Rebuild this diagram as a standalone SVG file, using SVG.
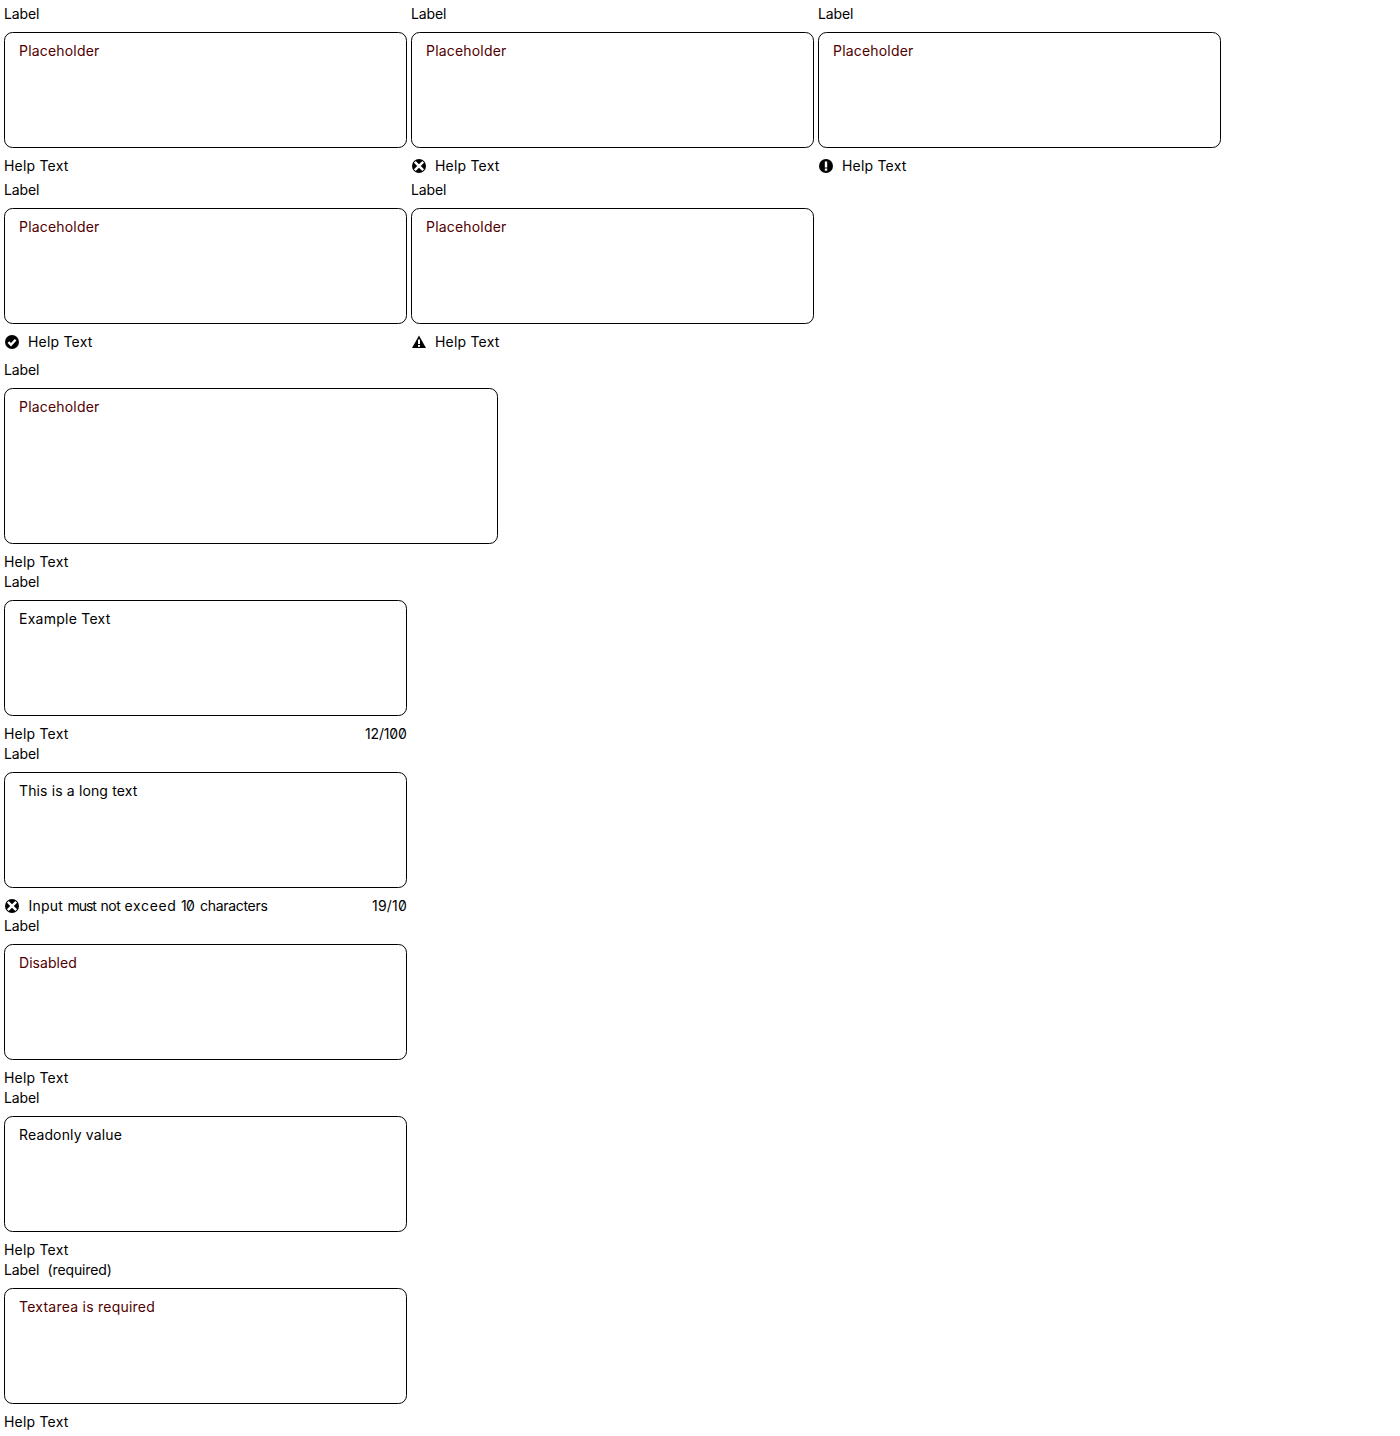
<svg xmlns="http://www.w3.org/2000/svg" width="1400" height="1436" viewBox="0 0 1400 1436">
<defs>
<style>
text{font-family:"Inter","Liberation Sans",sans-serif;font-size:14px;font-weight:380;fill:#000;letter-spacing:.16px;font-feature-settings:"zero"}
.p{fill:#500000}
.b{fill:#fff;stroke:#000;stroke-width:1}
</style>
<symbol id="err" viewBox="0 0 14 14"><circle cx="7" cy="7" r="7"/><path d="M2.8 2.8L11.2 11.2M11.2 2.8L2.8 11.2" stroke="#fff" stroke-width="2.5"/></symbol>
<symbol id="info" viewBox="0 0 14 14"><circle cx="7" cy="7" r="7"/><rect x="5.8" y="2.5" width="2.4" height="6" fill="#fff"/><rect x="5.8" y="9.5" width="2.4" height="2.2" fill="#fff"/></symbol>
<symbol id="ok" viewBox="0 0 14 14"><circle cx="7" cy="7" r="7"/><path d="M3.4 7.2L6 9.8L10.6 4.8" fill="none" stroke="#fff" stroke-width="2.4"/></symbol>
<symbol id="warn" viewBox="0 0 14 14"><path d="M7 .5L14 13H0Z"/><rect x="6" y="4.5" width="2" height="4.5" fill="#fff"/><rect x="6" y="10" width="2" height="1.8" fill="#fff"/></symbol>
</defs>
<g id="field-1"><text x="4" y="19" textLength="35.5">Label</text><rect class="b" x="4.5" y="32.5" width="402" height="115" rx="8"/><text class="p" x="19" y="56" textLength="80.5">Placeholder</text><text x="4" y="171" textLength="64.5">Help Text</text></g>
<g id="field-2"><text x="411" y="19" textLength="35.5">Label</text><rect class="b" x="411.5" y="32.5" width="402" height="115" rx="8"/><text class="p" x="426" y="56" textLength="80.5">Placeholder</text><use href="#err" x="412" y="159" width="14" height="14"/><text x="435" y="171" textLength="64.5">Help Text</text></g>
<g id="field-3"><text x="818" y="19" textLength="35.5">Label</text><rect class="b" x="818.5" y="32.5" width="402" height="115" rx="8"/><text class="p" x="833" y="56" textLength="80.5">Placeholder</text><use href="#info" x="819" y="159" width="14" height="14"/><text x="842" y="171" textLength="64.5">Help Text</text></g>
<g id="field-4"><text x="4" y="195" textLength="35.5">Label</text><rect class="b" x="4.5" y="208.5" width="402" height="115" rx="8"/><text class="p" x="19" y="232" textLength="80.5">Placeholder</text><use href="#ok" x="5" y="335" width="14" height="14"/><text x="28" y="347" textLength="64.5">Help Text</text></g>
<g id="field-5"><text x="411" y="195" textLength="35.5">Label</text><rect class="b" x="411.5" y="208.5" width="402" height="115" rx="8"/><text class="p" x="426" y="232" textLength="80.5">Placeholder</text><use href="#warn" x="412" y="335" width="14" height="14"/><text x="435" y="347" textLength="64.5">Help Text</text></g>
<g id="field-6"><text x="4" y="375" textLength="35.5">Label</text><rect class="b" x="4.5" y="388.5" width="493" height="155" rx="8"/><text class="p" x="19" y="412" textLength="80.5">Placeholder</text><text x="4" y="567" textLength="64.5">Help Text</text></g>
<g id="field-7"><text x="4" y="587" textLength="35.5">Label</text><rect class="b" x="4.5" y="600.5" width="402" height="115" rx="8"/><text x="19" y="624" textLength="91.5">Example Text</text><text x="4" y="739" textLength="64.5">Help Text</text><text x="365" y="739" textLength="42">12/100</text></g>
<g id="field-8"><text x="4" y="759" textLength="35.5">Label</text><rect class="b" x="4.5" y="772.5" width="402" height="115" rx="8"/><text x="19" y="796" textLength="118.5">This is a long text</text><use href="#err" x="5" y="899" width="14" height="14"/><text y="911"><tspan x="28.5" textLength="34.5">Input</tspan> <tspan x="67.5" textLength="29.5">must</tspan> <tspan x="100.5" textLength="20.5">not</tspan> <tspan x="124.5" textLength="51.5">exceed</tspan> <tspan x="181" textLength="14">10</tspan> <tspan x="200" textLength="68">characters</tspan></text><text x="372" y="911" textLength="35">19/10</text></g>
<g id="field-9"><text x="4" y="931" textLength="35.5">Label</text><rect class="b" x="4.5" y="944.5" width="402" height="115" rx="8"/><text class="p" x="19" y="968" textLength="58">Disabled</text><text x="4" y="1083" textLength="64.5">Help Text</text></g>
<g id="field-10"><text x="4" y="1103" textLength="35.5">Label</text><rect class="b" x="4.5" y="1116.5" width="402" height="115" rx="8"/><text x="19" y="1140" textLength="103">Readonly value</text><text x="4" y="1255" textLength="64.5">Help Text</text></g>
<g id="field-11"><text y="1275"><tspan x="4" textLength="35.5">Label</tspan> <tspan x="47.5" textLength="64.5">(required)</tspan></text><rect class="b" x="4.5" y="1288.5" width="402" height="115" rx="8"/><text class="p" x="19" y="1312" textLength="136">Textarea is required</text><text x="4" y="1427" textLength="64.5">Help Text</text></g>
</svg>
